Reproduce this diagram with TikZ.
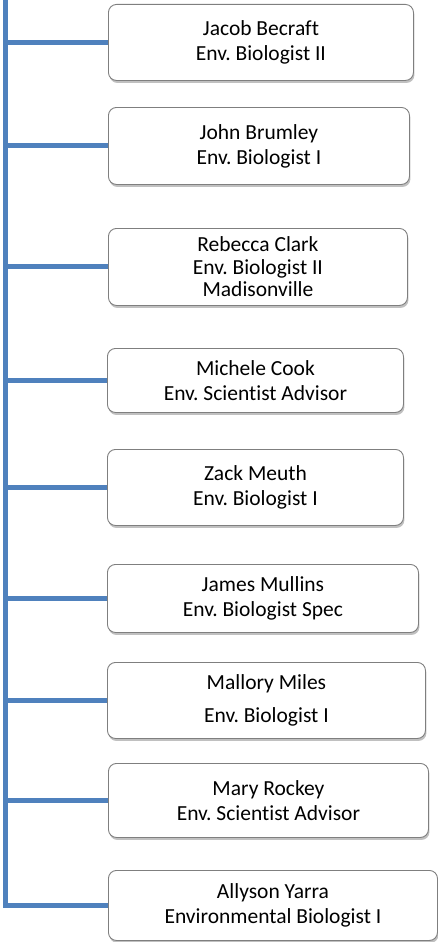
\documentclass[tikz,border=0pt]{standalone}
\usepackage{fontspec}
\setmainfont{Carlito}[Ligatures=NoCommon]
\frenchspacing
\usetikzlibrary{shadows,positioning}
\definecolor{chartblue}{HTML}{4F81BD}
\definecolor{boxgray}{HTML}{7F7F7F}
\tikzset{
        staff/.style = {draw=boxgray, line width=0.9pt, rounded corners=8pt,
            fill=white, anchor=north west, align=center, inner sep=0pt,
            text=black, font=\fontsize{21.5}{25}\selectfont,
            drop shadow={shadow xshift=1pt, shadow yshift=-2.5pt,
                opacity=0.45, fill=black!55}},
        trunk/.style = {draw=chartblue, line width=5pt},
    }

\begin{document}
\begin{tikzpicture}[x=1pt,y=-1pt]
    \useasboundingbox (0,0) rectangle (438,942);
    \coordinate (trunktop) at (5,0);

    % staff boxes
    \node[staff, minimum width=305, minimum height=76] (becraft) at (108,4)
        {Jacob Becraft\\Env. Biologist II};
    \node[staff, minimum width=301, minimum height=77] (brumley) at (108,107)
        {John Brumley\\Env. Biologist I};
    \node[staff, minimum width=299, minimum height=77, font=\fontsize{21.5}{22.5}\selectfont] (clark) at (108,228)
        {Rebecca Clark\\Env. Biologist II\\Madisonville};
    \node[staff, minimum width=296, minimum height=64] (cook) at (107,348)
        {Michele Cook\\Env. Scientist Advisor};
    \node[staff, minimum width=296, minimum height=76] (meuth) at (107,449)
        {Zack Meuth\\Env. Biologist I};
    \node[staff, minimum width=311, minimum height=68] (mullins) at (107,564)
        {James Mullins\\Env. Biologist Spec};
    \node[staff, minimum width=318, minimum height=76, font=\fontsize{21.5}{33}\selectfont] (miles) at (107,662)
        {Mallory Miles\\Env. Biologist I};
    \node[staff, minimum width=320, minimum height=74] (rockey) at (108,763)
        {Mary Rockey\\Env. Scientist Advisor};
    \node[staff, minimum width=329, minimum height=70] (yarra) at (108,870)
        {Allyson Yarra\\Environmental Biologist I};

    % trunk and branches
    \draw[trunk] (trunktop) |- (yarra.west);
    \draw[trunk] (becraft.west) -- (becraft.west -| trunktop);
    \draw[trunk] (brumley.west) -- (brumley.west -| trunktop);
    \draw[trunk] (clark.west) -- (clark.west -| trunktop);
    \draw[trunk] (cook.west) -- (cook.west -| trunktop);
    \draw[trunk] (meuth.west) -- (meuth.west -| trunktop);
    \draw[trunk] (mullins.west) -- (mullins.west -| trunktop);
    \draw[trunk] (miles.west) -- (miles.west -| trunktop);
    \draw[trunk] (rockey.west) -- (rockey.west -| trunktop);
\end{tikzpicture}
\end{document}
